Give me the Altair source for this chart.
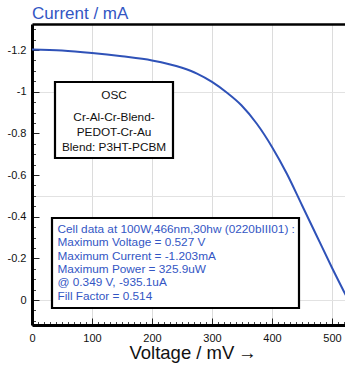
import altair as alt
import pandas as pd

# ---- data ----
voltage_mv = [0, 50, 100, 150, 200, 250, 275, 300, 325, 349, 375, 400, 425, 450, 475, 500, 527, 540]
current_ma = [-1.203, -1.198, -1.186, -1.170, -1.150, -1.115, -1.087, -1.047, -0.995, -0.935,
              -0.845, -0.735, -0.605, -0.455, -0.305, -0.155, 0.0, 0.075]

x_tick_values = [0, 100, 200, 300, 400, 500]
y_tick_values = [-1.2, -1.0, -0.8, -0.6, -0.4, -0.2, 0.0]
y_grid_values = [-1.0, -0.5, 0.0]
x_minor_values = [0, 10, 20, 30, 40, 50, 60, 70, 80, 90, 100, 110, 120, 130, 140, 150, 160, 170, 180, 190,
                  200, 210, 220, 230, 240, 250, 260, 270, 280, 290, 300, 310, 320, 330, 340, 350, 360, 370,
                  380, 390, 400, 410, 420, 430, 440, 450, 460, 470, 480, 490, 500, 510, 520]
y_minor_values = [-1.3, -1.25, -1.2, -1.15, -1.1, -1.05, -1.0, -0.95, -0.9, -0.85, -0.8, -0.75, -0.7,
                  -0.65, -0.6, -0.55, -0.5, -0.45, -0.4, -0.35, -0.3, -0.25, -0.2, -0.15, -0.1, -0.05,
                  0.0, 0.05, 0.1]

osc_lines = ["OSC", "Cr-Al-Cr-Blend-", "PEDOT-Cr-Au", "Blend: P3HT-PCBM"]
cell_lines = ["Cell data at 100W,466nm,30hw (0220bIII01) :",
              "Maximum Voltage =  0.527 V",
              "Maximum Current = -1.203mA",
              "Maximum Power = 325.9uW",
              "@  0.349 V, -935.1uA",
              "Fill Factor = 0.514"]
y_title = "Current / mA"
x_title = "Voltage / mV\u2009\u2192"

df = pd.DataFrame({"V": voltage_mv, "I": current_ma})

FONT = "Liberation Sans"
BLUE_LINE = "#2f52b8"
BLUE_TEXT = "#3356c4"

W, H = 313, 301
xscale = alt.Scale(domain=[0, 521.67], nice=False, zero=False)
yscale = alt.Scale(domain=[-1.325, 0.12], nice=False, zero=False, reverse=True)

# main line with labels, x grid, domains
line = alt.Chart(df).mark_line(color=BLUE_LINE, strokeWidth=2, interpolate="monotone", clip=True).encode(
    x=alt.X("V:Q", scale=xscale, axis=alt.Axis(
        orient="bottom", values=x_tick_values, grid=True, gridColor="#dcdcdc", gridWidth=1,
        ticks=False, tickSize=0, domain=True, domainColor="black", domainWidth=3,
        labelFont=FONT, labelFontSize=11, labelColor="#111", labelPadding=7, labelFlush=False,
        title=None)),
    y=alt.Y("I:Q", scale=yscale, axis=alt.Axis(
        orient="left", values=y_tick_values, grid=False, ticks=False, tickSize=0,
        domain=True, domainColor="black", domainWidth=3,
        labelExpr="'' + datum.value", labelFont=FONT, labelFontSize=11, labelColor="#111",
        labelPadding=6, labelFlush=False, title=None)),
)

# top border
top_border = alt.Chart(df).mark_point(opacity=0).encode(
    x=alt.X("V:Q", scale=xscale, axis=alt.Axis(
        orient="top", labels=False, ticks=False, grid=False, domain=True,
        domainColor="black", domainWidth=2.5, title=None)),
)

# y grid
y_grid = alt.Chart(df).mark_point(opacity=0).encode(
    y=alt.Y("I:Q", scale=yscale, axis=alt.Axis(
        orient="left", values=y_grid_values, grid=True, gridColor="#e2e2e2", gridWidth=1,
        labels=False, ticks=False, domain=False, title=None)),
)

# major ticks (inward)
major_ticks = alt.Chart(df).mark_point(opacity=0).encode(
    x=alt.X("V:Q", scale=xscale, axis=alt.Axis(
        orient="bottom", values=x_tick_values, grid=False, labels=False, domain=False,
        ticks=True, tickSize=7, offset=-7, tickColor="#222", tickWidth=1, title=None)),
    y=alt.Y("I:Q", scale=yscale, axis=alt.Axis(
        orient="left", values=y_tick_values, grid=False, labels=False, domain=False,
        ticks=True, tickSize=7, offset=-7, tickColor="#222", tickWidth=1, title=None)),
)

# minor ticks (inward)
minor_ticks = alt.Chart(df).mark_point(opacity=0).encode(
    x=alt.X("V:Q", scale=xscale, axis=alt.Axis(
        orient="bottom", values=x_minor_values, grid=False, labels=False, domain=False,
        ticks=True, tickSize=3.5, offset=-3.5, tickColor="#444", tickWidth=1, title=None)),
    y=alt.Y("I:Q", scale=yscale, axis=alt.Axis(
        orient="left", values=y_minor_values, grid=False, labels=False, domain=False,
        ticks=True, tickSize=3.5, offset=-3.5, tickColor="#444", tickWidth=1, title=None)),
)

one = alt.Data(values=[{"k": 0}])

box1 = alt.Chart(one).mark_rect(fill="white", stroke="black", strokeWidth=2.2).encode(
    x=alt.value(23), x2=alt.value(141), y=alt.value(58), y2=alt.value(134))
box2 = alt.Chart(one).mark_rect(fill="white", stroke="black", strokeWidth=2.2).encode(
    x=alt.value(20), x2=alt.value(267), y=alt.value(194), y2=alt.value(284))

osc_y = [71, 93, 108, 123]
texts = []
for t, yy in zip(osc_lines, osc_y):
    texts.append(alt.Chart(one).mark_text(text=t, align="center", baseline="middle", font=FONT,
                                          fontSize=11.8, color="#111").encode(
        x=alt.value(82), y=alt.value(yy)))
for i, t in enumerate(cell_lines):
    texts.append(alt.Chart(one).mark_text(text=t, align="left", baseline="middle", font=FONT,
                                          fontSize=11.8, color=BLUE_TEXT).encode(
        x=alt.value(25.5), y=alt.value(205 + 13.3 * i)))

ytitle = alt.Chart(one).mark_text(text=y_title, align="left", baseline="alphabetic", font=FONT,
                                  fontSize=17, color=BLUE_TEXT).encode(
    x=alt.value(0), y=alt.value(-5.5))
xtitle = alt.Chart(one).mark_text(text=x_title, align="center", baseline="middle", font=FONT,
                                  fontSize=18.5, color="#111").encode(
    x=alt.value(161), y=alt.value(329))

chart = alt.layer(
    y_grid, minor_ticks, major_ticks, top_border, line, box1, box2, *texts, ytitle, xtitle
).resolve_axis(x="independent", y="independent").properties(
    width=W, height=H,
    autosize=alt.AutoSizeParams(type="none"),
    padding={"left": 32, "top": 24, "right": 0, "bottom": 40},
).configure_view(stroke=None).configure(background="white")

chart.save("out.html", embed_options={"renderer": "svg", "actions": False})
